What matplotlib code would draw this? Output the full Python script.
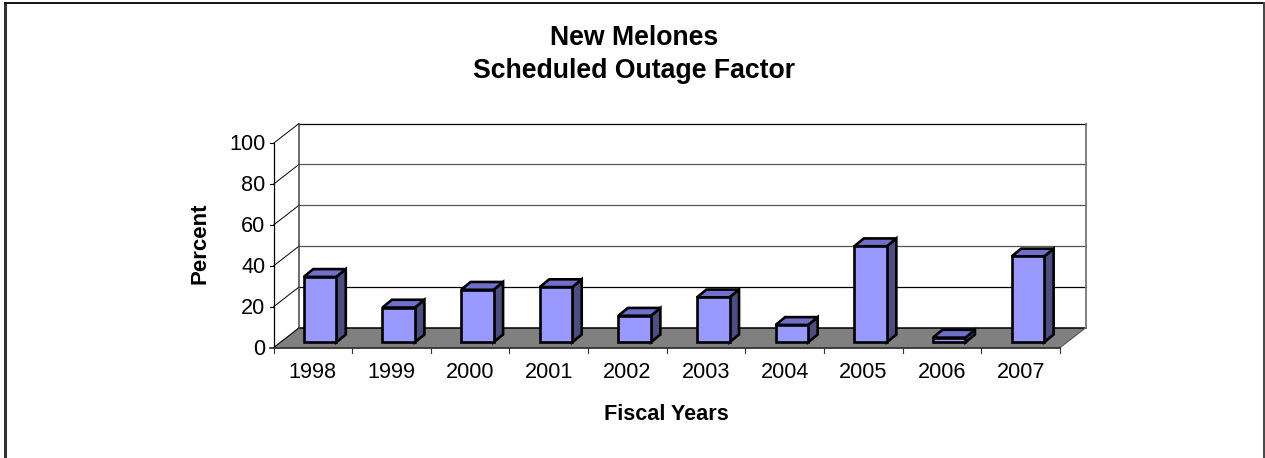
#!/usr/bin/env python3
import matplotlib
matplotlib.use("Agg")
import matplotlib.pyplot as plt
from matplotlib.patches import Polygon
from matplotlib.lines import Line2D

# --- Data ---
YEARS = ["1998", "1999", "2000", "2001", "2002", "2003", "2004", "2005", "2006", "2007"]
VALUES = [32, 17, 25.7, 27, 13, 22, 8.5, 47, 2.3, 42]
Y_TICKS = [0, 20, 40, 60, 80, 100]

W, H = 1265, 458
FRONT_FILL, TOP_FILL, SIDE_FILL = "#9999FF", "#7070CC", "#4D4D80"

plt.rcParams['font.family'] = ['Liberation Sans', 'DejaVu Sans']

fig = plt.figure(figsize=(W / 100, H / 100), dpi=100, facecolor="white")

# figure frame: no bottom edge in the original
frame = fig.add_axes([0, 0, 1, 1], zorder=0)
frame.set_xlim(0, W); frame.set_ylim(H, 0); frame.axis("off")
frame.plot([4.5, 4.5], [H, 2.5], color="#333333", lw=2.2, solid_capstyle="butt")
frame.plot([3.5, 1264], [2.5, 2.5], color="#111111", lw=1.4, solid_capstyle="butt")
frame.plot([1263.5, 1263.5], [2, H], color="#444444", lw=1.4, solid_capstyle="butt")

# axes sits on the front plane of the fake 3d box
L, R, B, T = 273.5, 1060, 347.7, 143.3
ax = fig.add_axes([L / W, 1 - B / H, (R - L) / W, (B - T) / H], zorder=1)
ax.set_xlim(0, len(YEARS)); ax.set_ylim(0, 100)
ax.axis("off")

sx = len(YEARS) / (R - L)   # data units per pixel
sy = 100 / (B - T)
DX, DY = 25.5 * sx, 19.8 * sy     # box depth
BAR_W = 32.5 * sx
BAR_X = 7.2 * sx                  # bar offset from category centre
BAR_Y = 5.4 * sy                  # bar foot above the front edge
BDX, BDY = 9.5 * sx, 7.8 * sy     # bar depth
n = len(YEARS)

# floor and walls
ax.add_patch(Polygon([(0, 0), (n, 0), (n + DX, DY), (DX, DY)], fc="#808080", ec="none", clip_on=False))
ax.add_patch(Polygon([(DX, DY), (n + DX, DY), (n + DX, 100 + DY), (DX, 100 + DY)], fc="white", ec="none", clip_on=False))
for t in Y_TICKS[1:]:
    col = "black" if t in (20, 100) else "#555555"
    ax.add_line(Line2D([DX, n + DX], [t + DY, t + DY], color=col, lw=0.9, clip_on=False))
    ax.add_line(Line2D([0, DX], [t, t + DY], color="black", lw=0.7, clip_on=False))
    ax.add_line(Line2D([-4 * sx, 0], [t, t], color="black", lw=0.8, clip_on=False))
ax.add_line(Line2D([DX, n + DX], [DY, DY], color="black", lw=1.1, clip_on=False))
ax.add_line(Line2D([0, DX], [0, DY], color="black", lw=0.8, clip_on=False))
ax.add_line(Line2D([n, n + DX], [0, DY], color="#555555", lw=0.8, clip_on=False))
ax.add_line(Line2D([DX, DX], [DY, 100 + DY], color="#444444", lw=1.1, clip_on=False))
ax.add_line(Line2D([n + DX, n + DX], [DY, 100 + DY], color="#777777", lw=1.3, clip_on=False))
ax.add_line(Line2D([0, 0], [0, 100], color="black", lw=0.9, clip_on=False))
ax.add_line(Line2D([-4 * sx, n], [0, 0], color="#222222", lw=1.2, clip_on=False))
for i in range(n + 1):
    ax.add_line(Line2D([i, i], [0, -5 * sy], color="#333333", lw=0.8, clip_on=False))

# bars
for i, v in enumerate(VALUES):
    x0 = i + 0.5 + BAR_X - BAR_W / 2
    x1 = x0 + BAR_W
    y0 = BAR_Y
    y1 = BAR_Y + v
    style = dict(ec="black", lw=1.9, joinstyle="miter", clip_on=False, zorder=5)
    ax.add_patch(Polygon([(x1, y0), (x1 + BDX, y0 + BDY), (x1 + BDX, y1 + BDY), (x1, y1)], fc=SIDE_FILL, **style))
    ax.add_patch(Polygon([(x0, y1), (x1, y1), (x1 + BDX, y1 + BDY), (x0 + BDX, y1 + BDY)], fc=TOP_FILL, **style))
    ax.add_patch(Polygon([(x0, y0), (x1, y0), (x1, y1), (x0, y1)], fc=FRONT_FILL, **style))

# labels
for t in Y_TICKS:
    ax.text(-8 * sx, t - 1.5 * sy, str(t), ha="right", va="center", fontsize=15.6, color="black", clip_on=False)
for i, y in enumerate(YEARS):
    ax.text(i + 0.5, -14 * sy, y, ha="center", va="top", fontsize=15.6, color="black", clip_on=False)

frame.text(634.5, 38, "New Melones", ha="center", va="center", fontsize=19.2, fontweight="bold")
frame.text(634, 71, "Scheduled Outage Factor", ha="center", va="center", fontsize=19.2, fontweight="bold")
frame.text(666.5, 415, "Fiscal Years", ha="center", va="center", fontsize=15.6, fontweight="bold")
frame.text(200, 243, "Percent", ha="center", va="center", rotation=90, fontsize=16, fontweight="bold")

fig.savefig("out.png", dpi=100, facecolor="white")
